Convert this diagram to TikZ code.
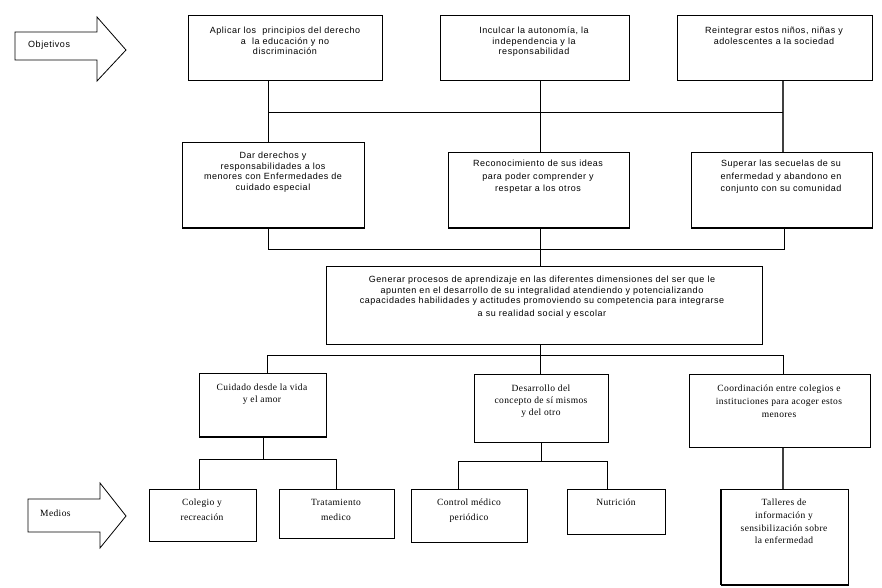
\documentclass[tikz,border=0pt]{standalone}
\usepackage{fontspec}
\newfontfamily\sansf[LetterSpace=6]{Liberation Sans}
\newfontfamily\seriff[LetterSpace=4]{Liberation Serif}
\begin{document}
\begin{tikzpicture}[x=1pt,y=-1pt,
  box/.style={draw,line width=0.8pt,inner sep=0pt,anchor=north west},
  stxt/.style={inner sep=0pt,anchor=north,align=center,font=\sansf\fontsize{9}{10.5}\selectfont},
  rtxt/.style={inner sep=0pt,anchor=north,align=center,font=\seriff\fontsize{9.5}{13}\selectfont},
  link/.style={draw,line width=0.8pt},
  shade/.style={draw,line width=1.6pt},
  bigarrow/.style={draw,line width=0.8pt,fill=white}]
\useasboundingbox (0,0) rectangle (882,587);
% Objetivos arrow
\draw[bigarrow] (15,32) -- (97,32) -- (97,17) -- (126,50) -- (97,81) -- (97,60) -- (15,60) -- cycle;
\node[inner sep=0pt,anchor=west,font=\sansf\fontsize{9}{10.5}\selectfont] (obj) at (28,45) {Objetivos};
% Medios arrow
\draw[bigarrow] (28,499) -- (100,499) -- (100,483) -- (126,516) -- (100,548) -- (100,532) -- (28,532) -- cycle;
\node[inner sep=0pt,anchor=west,font=\seriff\fontsize{9.5}{13}\selectfont] (med) at (40,513) {Medios};
% Row A
\node[box,minimum width=194pt,minimum height=65pt] (a1) at (188,15) {};
\node[stxt] (t-a1) at (285,27) {Aplicar los \ principios del derecho\\a \ la educación y no\\discriminación};
\node[box,minimum width=189pt,minimum height=65pt] (a2) at (440,15) {};
\node[stxt] (t-a2) at (534,27) {Inculcar la autonomía, la\\independencia y la\\responsabilidad};
\node[box,minimum width=195pt,minimum height=65pt] (a3) at (677,15) {};
\node[stxt] (t-a3) at (774,27) {Reintegrar estos niños, niñas y\\adolescentes a la sociedad};
% Row B
\node[box,minimum width=182pt,minimum height=85pt] (b1) at (182,142) {};
\draw[shade] (b1.south west) -- (b1.south east);
\node[stxt] (t-b1) at (273,152) {Dar derechos y\\responsabilidades a los\\menores con Enfermedades de\\cuidado especial};
\node[box,minimum width=181pt,minimum height=75pt] (b2) at (448,152) {};
\draw[shade] (b2.south west) -- (b2.south east);
\node[stxt,font=\sansf\fontsize{9}{12.5}\selectfont] (t-b2) at (538,160) {Reconocimiento de sus ideas\\para poder comprender y\\respetar a los otros};
\node[box,minimum width=181pt,minimum height=75pt] (b3) at (691,152) {};
\draw[shade] (b3.south west) -- (b3.south east);
\node[stxt,font=\sansf\fontsize{9}{12.5}\selectfont] (t-b3) at (781,160) {Superar las secuelas de su\\enfermedad y abandono en\\conjunto con su comunidad};
% Row C
\node[box,minimum width=436pt,minimum height=78pt] (c) at (326,266) {};
\node[stxt] (t-c) at (542,276) {Generar procesos de aprendizaje en las diferentes dimensiones del ser que le\\apunten en el desarrollo de su integralidad atendiendo y potencializando\\capacidades habilidades y actitudes promoviendo su competencia para integrarse\\[2.5pt]a su realidad social y escolar};
% Row D
\node[box,minimum width=127pt,minimum height=63pt] (d1) at (199,373) {};
\draw[shade] (d1.south west) -- (d1.south east);
\node[rtxt,font=\seriff\fontsize{9.5}{11.5}\selectfont] (t-d1) at (262,384) {Cuidado desde la vida\\y el amor};
\node[box,minimum width=134pt,minimum height=68pt] (d2) at (474,374) {};
\node[rtxt,font=\seriff\fontsize{9.5}{12}\selectfont] (t-d2) at (541,385) {Desarrollo del\\concepto de sí mismos\\y del otro};
\node[box,minimum width=181pt,minimum height=73pt] (d3) at (689,374) {};
\node[rtxt] (t-d3) at (779,385) {Coordinación entre colegios e\\instituciones para acoger estos\\menores};
% Row E
\node[box,minimum width=107pt,minimum height=52pt] (e1) at (149,489) {};
\node[rtxt,font=\seriff\fontsize{9.5}{15}\selectfont] (t-e1) at (202,499) {Colegio y\\recreación};
\node[box,minimum width=115pt,minimum height=49pt] (e2) at (279,489) {};
\node[rtxt,font=\seriff\fontsize{9.5}{15}\selectfont] (t-e2) at (336,499) {Tratamiento\\medico};
\node[box,minimum width=116pt,minimum height=53pt] (e3) at (411,489) {};
\node[rtxt,font=\seriff\fontsize{9.5}{15}\selectfont] (t-e3) at (469,499) {Control médico\\periódico};
\node[box,minimum width=98pt,minimum height=45pt] (e4) at (567,489) {};
\node[rtxt] (t-e4) at (616,499) {Nutrición};
\node[box,minimum width=127pt,minimum height=95pt] (e5) at (721,489) {};
\draw[shade] (e5.south west) -- (e5.south east);
\draw[shade] (e5.south west) -- (e5.north west);
\node[rtxt,font=\seriff\fontsize{9.5}{12.7}\selectfont] (t-e5) at (784,499) {Talleres de\\información y\\sensibilización sobre\\la enfermedad};
% Connectors A -> B
\coordinate (h1l) at (268,112);
\coordinate (h1r) at (783,112);
\draw[link] (a1.south -| h1l) -- (b1.north -| h1l);
\draw[link] (a2.south -| 540,0) -- (b2.north -| 540,0);
\draw[link,line width=1.2pt,black!75] (a3.south -| h1r) -- (b3.north -| h1r);
\draw[link] (h1l) -- (h1r);
% B -> C
\coordinate (h2l) at (268,249);
\coordinate (h2r) at (784,249);
\draw[link] (b1.south -| h2l) -- (h2l) -- (h2r) -- (b3.south -| h2r);
\draw[link] (b2.south -| 540,0) -- (c.north -| 540,0);
% C -> D
\coordinate (h3l) at (267,355);
\coordinate (h3r) at (783,355);
\draw[link] (c.south -| 540,0) -- (540,355);
\draw[link] (d1.north -| h3l) -- (h3l) -- (h3r) -- (d3.north -| h3r);
\draw[link] (540,355) -- (d2.north -| 540,0);
% D1 -> E1, E2
\coordinate (h4m) at (263,459);
\draw[link] (d1.south -| h4m) -- (h4m);
\draw[link] (e1.north -| 199,0) -- (199,459) -- (336,459) -- (e2.north -| 336,0);
% D2 -> E3, E4
\coordinate (h5m) at (541,461);
\draw[link] (d2.south -| h5m) -- (h5m);
\draw[link] (e3.north -| 458,0) -- (458,461) -- (607,461) -- (e4.north -| 607,0);
% D3 -> E5
\draw[link,line width=1.2pt,black!75] (d3.south -| 783,0) -- (e5.north -| 783,0);
\end{tikzpicture}
\end{document}
